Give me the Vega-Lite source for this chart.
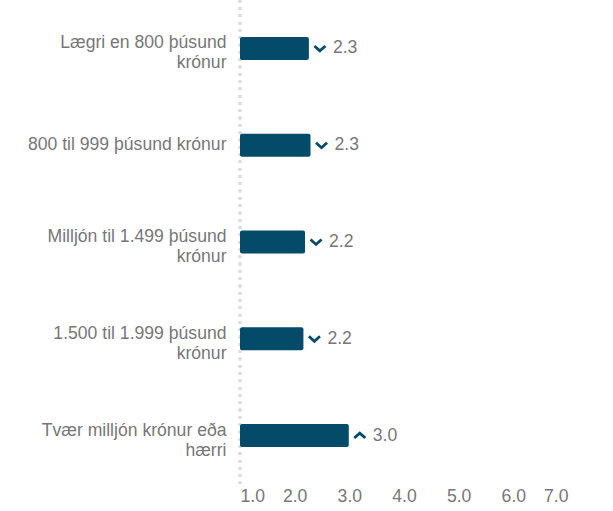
{
  "$schema": "https://vega.github.io/schema/vega-lite/v6.json",
  "autosize": "none",
  "width": 328,
  "height": 484,
  "padding": {"left": 240, "top": 0, "right": 45, "bottom": 27},
  "config": {
    "view": {"stroke": null},
    "font": "Liberation Sans"
  },
  "data": {
    "values": [
      {"flokkur": "Lægri en 800 þúsund krónur", "gildi": 2.26, "breyting": "down"},
      {"flokkur": "800 til 999 þúsund krónur", "gildi": 2.29, "breyting": "down"},
      {"flokkur": "Milljón til 1.499 þúsund krónur", "gildi": 2.19, "breyting": "down"},
      {"flokkur": "1.500 til 1.999 þúsund krónur", "gildi": 2.16, "breyting": "down"},
      {"flokkur": "Tvær milljón krónur eða hærri", "gildi": 2.99, "breyting": "up"}
    ]
  },
  "layer": [
    {
      "mark": {"type": "rule", "color": "#dcdcdc", "strokeWidth": 2.5, "strokeDash": [2.5, 4.8]},
      "encoding": {"x": {"datum": 1}}
    },
    {
      "mark": {"type": "bar", "color": "#034b69", "size": 23, "cornerRadius": 2},
      "encoding": {
        "y": {
          "field": "flokkur", "type": "nominal", "sort": null, "title": null,
          "axis": {
            "domain": false, "ticks": false, "labelPadding": 14, "labelFontSize": 17.6,
            "labelColor": "#777777", "labelLineHeight": 20, "labelLimit": 240,
            "labelOffset": {"expr": "datum.value == '800 til 999 þúsund krónur' ? 0 : -5"},
            "labelExpr": "datum.value == 'Lægri en 800 þúsund krónur' ? ['Lægri en 800 þúsund', 'krónur'] : datum.value == 'Milljón til 1.499 þúsund krónur' ? ['Milljón til 1.499 þúsund', 'krónur'] : datum.value == '1.500 til 1.999 þúsund krónur' ? ['1.500 til 1.999 þúsund', 'krónur'] : datum.value == 'Tvær milljón krónur eða hærri' ? ['Tvær milljón krónur eða', 'hærri'] : datum.value"
          }
        },
        "x": {
          "field": "gildi", "type": "quantitative", "title": null,
          "scale": {"domain": [1, 7], "zero": false, "nice": false},
          "axis": {
            "values": [1, 2, 3, 4, 5, 6, 7], "format": ".1f", "grid": false, "domain": false,
            "ticks": false, "labelPadding": 3, "labelFontSize": 17.6, "labelColor": "#777777"
          }
        },
        "x2": {"datum": 1}
      }
    },
    {
      "mark": {"type": "point", "filled": false, "stroke": "#034b69", "strokeWidth": 2.8, "opacity": 1, "size": 121, "xOffset": 11},
      "encoding": {
        "y": {"field": "flokkur", "type": "nominal", "sort": null},
        "x": {"field": "gildi", "type": "quantitative"},
        "shape": {
          "field": "breyting", "type": "nominal", "legend": null,
          "scale": {"domain": ["down", "up"], "range": ["M-1,-0.45L0,0.45L1,-0.45", "M-1,0.45L0,-0.45L1,0.45"]}
        }
      }
    },
    {
      "mark": {"type": "text", "align": "left", "baseline": "middle", "dx": 24, "fontSize": 17.6, "color": "#777777"},
      "encoding": {
        "y": {"field": "flokkur", "type": "nominal", "sort": null},
        "x": {"field": "gildi", "type": "quantitative"},
        "text": {"field": "gildi", "type": "quantitative", "format": ".1f"}
      }
    }
  ]
}
